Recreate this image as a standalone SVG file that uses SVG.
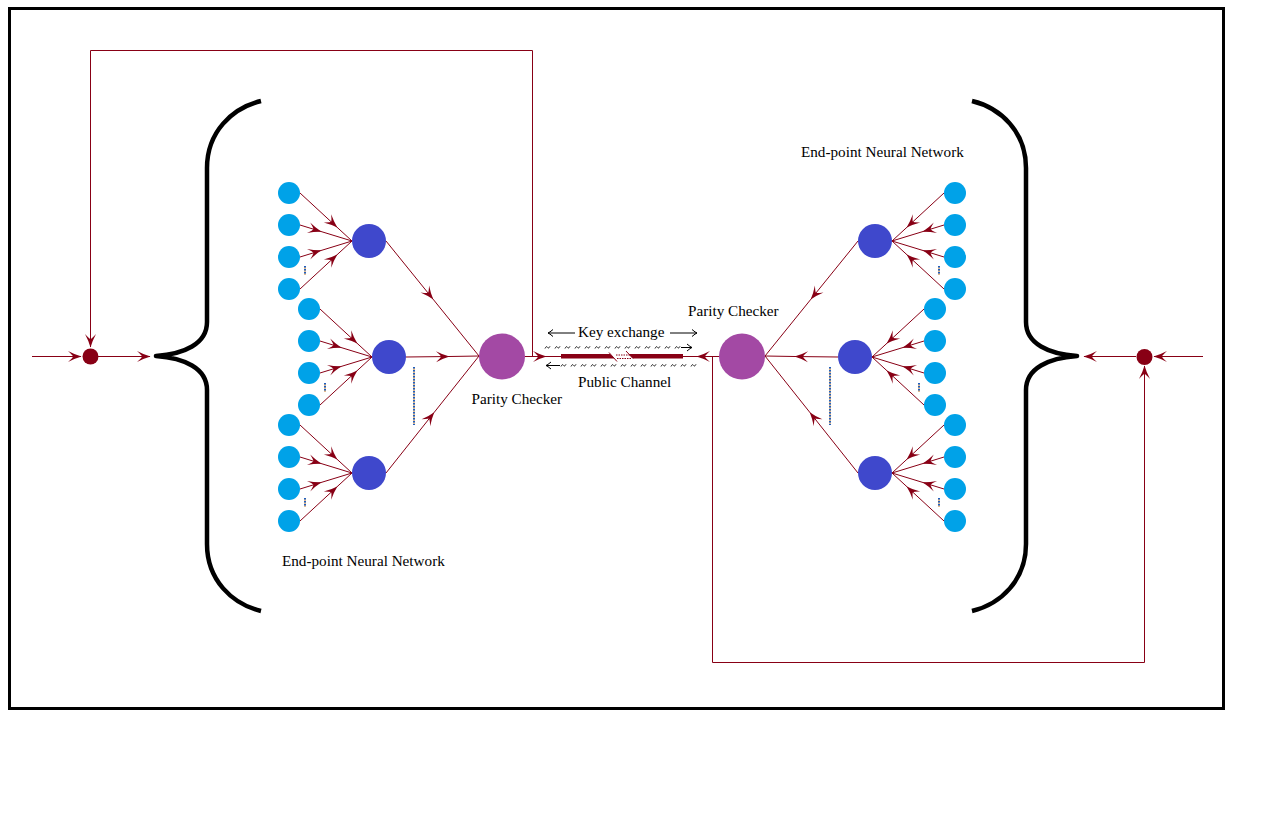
<svg xmlns="http://www.w3.org/2000/svg" width="1287" height="823" viewBox="0 0 1287 823">
<style>
.e{fill:none;stroke:#880015;stroke-width:1;marker-mid:url(#ah)}
.f{fill:none;stroke:#880015;stroke-width:1}
.fe{fill:none;stroke:#880015;stroke-width:1;marker-end:url(#ah)}
.in{fill:#00a2e8}
.hd{fill:#3f48cc}
.pc{fill:#a349a4}
.br{fill:none;stroke:#000;stroke-width:4.5;stroke-linejoin:round}
.t{font-family:"Liberation Serif","Times New Roman",serif;font-size:15.2px;fill:#000}
.ka{fill:none;stroke:#000;stroke-width:1;marker-end:url(#oa)}
.dO{stroke:#c87a20;stroke-width:2;stroke-dasharray:1 2;stroke-dashoffset:-1.5;fill:none}
.dB{stroke:#1f5fc0;stroke-width:2;stroke-dasharray:1.5 1.5;fill:none}
.tl{fill:none;stroke:#222;stroke-width:1}
</style>
<defs>
<marker id="ah" viewBox="-14 -7 15 14" refX="0" refY="0" markerWidth="15" markerHeight="14" markerUnits="userSpaceOnUse" orient="auto"><path d="M0.5,0 Q-6.5,-2 -13,-5.5 Q-8,-1 -8,0 Q-8,1 -13,5.5 Q-6.5,2 0.5,0 Z" fill="#880015"/></marker>
<marker id="oa" viewBox="-6 -5 7 10" refX="0" refY="0" markerWidth="7" markerHeight="10" markerUnits="userSpaceOnUse" orient="auto" overflow="visible"><path d="M-5,-3.5 Q-1.5,-0.5 0,0 Q-1.5,0.5 -5,3.5" fill="none" stroke="#000" stroke-width="1"/></marker>
</defs>
<rect x="0" y="0" width="1287" height="823" fill="#fff"/>
<rect id="frame" x="9.5" y="8.5" width="1214" height="700" fill="none" stroke="#000" stroke-width="3"/>

<g id="connectors">
<path class="e" d="M300,193 L337,227.2 L352,241"/>
<path class="e" d="M300,225 L321,231.5 L352,241"/>
<path class="e" d="M300,257 L321,250.5 L352,241"/>
<path class="e" d="M300,289 L337,254.8 L352,241"/>
<path class="e" d="M320,309 L357,343.2 L372,357"/>
<path class="e" d="M320,341 L341,347.5 L372,357"/>
<path class="e" d="M320,373 L341,366.5 L372,357"/>
<path class="e" d="M320,405 L357,370.8 L372,357"/>
<path class="e" d="M300,425 L337,459.2 L352,473"/>
<path class="e" d="M300,457 L321,463.5 L352,473"/>
<path class="e" d="M300,489 L321,482.5 L352,473"/>
<path class="e" d="M300,521 L337,486.8 L352,473"/>
<path class="e" d="M386,241 L433,299.1 L479,356"/>
<path class="e" d="M406,357 L449,356.5 L479,356"/>
<path class="e" d="M386,473 L434,412.6 L479,356"/>
<path class="e" d="M944,193 L907,227.2 L892,241"/>
<path class="e" d="M944,225 L923,231.5 L892,241"/>
<path class="e" d="M944,257 L923,250.5 L892,241"/>
<path class="e" d="M944,289 L907,254.8 L892,241"/>
<path class="e" d="M924,309 L887,343.2 L872,357"/>
<path class="e" d="M924,341 L903,347.5 L872,357"/>
<path class="e" d="M924,373 L903,366.5 L872,357"/>
<path class="e" d="M924,405 L887,370.8 L872,357"/>
<path class="e" d="M944,425 L907,459.2 L892,473"/>
<path class="e" d="M944,457 L923,463.5 L892,473"/>
<path class="e" d="M944,489 L923,482.5 L892,473"/>
<path class="e" d="M944,521 L907,486.8 L892,473"/>
<path class="e" d="M858,241 L811,299.1 L765,356"/>
<path class="e" d="M838,357 L795,356.5 L765,356"/>
<path class="e" d="M858,473 L810,412.6 L765,356"/>
<path class="e" d="M525,356.5 L546,356.5 L561,356.5"/>
<path class="e" d="M719,356.5 L697,356.5 L683,356.5"/>
<path class="f" d="M532.5,356.5 V50.5 H90.5 V340"/>
<path class="fe" d="M90.5,330 V347"/>
<path class="f" d="M712.5,356.5 V662.5 H1144.5 V375"/>
<path class="fe" d="M1144.5,385 V366"/>
<path class="fe" d="M32,356.5 H81"/>
<path class="fe" d="M98,356.5 H150"/>
<path class="fe" d="M1203,356.5 H1154"/>
<path class="fe" d="M1136,356.5 H1084"/>
</g>

<g id="channel">
<polygon points="561,354 610,354 614.5,358.5 561,358.5" fill="#880015"/>
<line x1="609" y1="352.5" x2="617" y2="361.5" stroke="#880015" stroke-width="1"/>
<line x1="616" y1="355" x2="631" y2="355" stroke="#880015" stroke-width="1" stroke-dasharray="1.5 1"/>
<line x1="617" y1="358.5" x2="632" y2="358.5" stroke="#880015" stroke-width="1" stroke-dasharray="1.5 1"/>
<polygon points="628.5,354 683,354 683,358.5 633,358.5" fill="#880015"/>
<line x1="626" y1="351" x2="633" y2="358.5" stroke="#880015" stroke-width="1"/>
<path class="tl" d="M545,348.5 c1,-2.2 2,-2.2 2.5,-1.2 s1.5,1.2 2.5,-1 m5,2.2 c1,-2.2 2,-2.2 2.5,-1.2 s1.5,1.2 2.5,-1 m5,2.2 c1,-2.2 2,-2.2 2.5,-1.2 s1.5,1.2 2.5,-1 m5,2.2 c1,-2.2 2,-2.2 2.5,-1.2 s1.5,1.2 2.5,-1 m5,2.2 c1,-2.2 2,-2.2 2.5,-1.2 s1.5,1.2 2.5,-1 m5,2.2 c1,-2.2 2,-2.2 2.5,-1.2 s1.5,1.2 2.5,-1 m5,2.2 c1,-2.2 2,-2.2 2.5,-1.2 s1.5,1.2 2.5,-1 m5,2.2 c1,-2.2 2,-2.2 2.5,-1.2 s1.5,1.2 2.5,-1 m5,2.2 c1,-2.2 2,-2.2 2.5,-1.2 s1.5,1.2 2.5,-1 m5,2.2 c1,-2.2 2,-2.2 2.5,-1.2 s1.5,1.2 2.5,-1 m5,2.2 c1,-2.2 2,-2.2 2.5,-1.2 s1.5,1.2 2.5,-1 m5,2.2 c1,-2.2 2,-2.2 2.5,-1.2 s1.5,1.2 2.5,-1 m5,2.2 c1,-2.2 2,-2.2 2.5,-1.2 s1.5,1.2 2.5,-1 m5,2.2 c1,-2.2 2,-2.2 2.5,-1.2 s1.5,1.2 2.5,-1"/>
<path class="tl" d="M561,366.5 c1,-2.2 2,-2.2 2.5,-1.2 s1.5,1.2 2.5,-1 m5,2.2 c1,-2.2 2,-2.2 2.5,-1.2 s1.5,1.2 2.5,-1 m5,2.2 c1,-2.2 2,-2.2 2.5,-1.2 s1.5,1.2 2.5,-1 m5,2.2 c1,-2.2 2,-2.2 2.5,-1.2 s1.5,1.2 2.5,-1 m5,2.2 c1,-2.2 2,-2.2 2.5,-1.2 s1.5,1.2 2.5,-1 m5,2.2 c1,-2.2 2,-2.2 2.5,-1.2 s1.5,1.2 2.5,-1 m5,2.2 c1,-2.2 2,-2.2 2.5,-1.2 s1.5,1.2 2.5,-1 m5,2.2 c1,-2.2 2,-2.2 2.5,-1.2 s1.5,1.2 2.5,-1 m5,2.2 c1,-2.2 2,-2.2 2.5,-1.2 s1.5,1.2 2.5,-1 m5,2.2 c1,-2.2 2,-2.2 2.5,-1.2 s1.5,1.2 2.5,-1 m5,2.2 c1,-2.2 2,-2.2 2.5,-1.2 s1.5,1.2 2.5,-1 m5,2.2 c1,-2.2 2,-2.2 2.5,-1.2 s1.5,1.2 2.5,-1 m5,2.2 c1,-2.2 2,-2.2 2.5,-1.2 s1.5,1.2 2.5,-1 m5,2.2 c1,-2.2 2,-2.2 2.5,-1.2 s1.5,1.2 2.5,-1"/>
<path class="ka" d="M681,347.5 H692"/>
<path class="ka" d="M560,365.5 H546"/>
<path class="ka" d="M575,333 H548"/>
<path class="ka" d="M670,333 H697"/>
<text class="t" x="578" y="337">Key exchange</text>
<text class="t" x="578" y="387">Public Channel</text>
</g>

<g id="braces">
<path class="br" d="M261,101 C232,108 207,132 207,168 L207,322 C207,344 184,354 156,356 C184,358 207,368 207,390 L207,544 C207,580 232,604 261,611"/>
<path class="br" d="M972,101 C1001,108 1026,132 1026,168 L1026,322 C1026,344 1049,354 1077,356 C1049,358 1026,368 1026,390 L1026,544 C1026,580 1001,604 972,611"/>
</g>

<g id="dots">
<line class="dO" x1="305" y1="266" x2="305" y2="275"/><line class="dB" x1="305" y1="266" x2="305" y2="275"/>
<line class="dO" x1="325" y1="383" x2="325" y2="392"/><line class="dB" x1="325" y1="383" x2="325" y2="392"/>
<line class="dO" x1="305" y1="498" x2="305" y2="507"/><line class="dB" x1="305" y1="498" x2="305" y2="507"/>
<line class="dO" x1="939" y1="266" x2="939" y2="275"/><line class="dB" x1="939" y1="266" x2="939" y2="275"/>
<line class="dO" x1="919" y1="383" x2="919" y2="392"/><line class="dB" x1="919" y1="383" x2="919" y2="392"/>
<line class="dO" x1="939" y1="498" x2="939" y2="507"/><line class="dB" x1="939" y1="498" x2="939" y2="507"/>
<line class="dO" x1="414" y1="367" x2="414" y2="425"/><line class="dB" x1="414" y1="367" x2="414" y2="425"/>
<line class="dO" x1="830" y1="367" x2="830" y2="425"/><line class="dB" x1="830" y1="367" x2="830" y2="425"/>
</g>

<g id="left-inputs">
<circle class="in" cx="289" cy="193" r="11"/><circle class="in" cx="289" cy="225" r="11"/><circle class="in" cx="289" cy="257" r="11"/><circle class="in" cx="289" cy="289" r="11"/>
<circle class="in" cx="309" cy="309" r="11"/><circle class="in" cx="309" cy="341" r="11"/><circle class="in" cx="309" cy="373" r="11"/><circle class="in" cx="309" cy="405" r="11"/>
<circle class="in" cx="289" cy="425" r="11"/><circle class="in" cx="289" cy="457" r="11"/><circle class="in" cx="289" cy="489" r="11"/><circle class="in" cx="289" cy="521" r="11"/>
</g>
<g id="left-hidden">
<circle class="hd" cx="369" cy="241" r="17"/>
<circle class="hd" cx="389" cy="357" r="17"/>
<circle class="hd" cx="369" cy="473" r="17"/>
</g>
<g id="left-parity">
<circle class="pc" cx="502" cy="356.5" r="23"/>
<text class="t" x="471.5" y="404">Parity Checker</text>
</g>
<g id="left-label"><text class="t" x="282" y="566">End-point Neural Network</text></g>
<g id="left-dot"><circle cx="90.5" cy="356.5" r="8" fill="#880015"/></g>

<g id="right-inputs">
<circle class="in" cx="955" cy="193" r="11"/><circle class="in" cx="955" cy="225" r="11"/><circle class="in" cx="955" cy="257" r="11"/><circle class="in" cx="955" cy="289" r="11"/>
<circle class="in" cx="935" cy="309" r="11"/><circle class="in" cx="935" cy="341" r="11"/><circle class="in" cx="935" cy="373" r="11"/><circle class="in" cx="935" cy="405" r="11"/>
<circle class="in" cx="955" cy="425" r="11"/><circle class="in" cx="955" cy="457" r="11"/><circle class="in" cx="955" cy="489" r="11"/><circle class="in" cx="955" cy="521" r="11"/>
</g>
<g id="right-hidden">
<circle class="hd" cx="875" cy="241" r="17"/>
<circle class="hd" cx="855" cy="357" r="17"/>
<circle class="hd" cx="875" cy="473" r="17"/>
</g>
<g id="right-parity">
<circle class="pc" cx="742" cy="356.5" r="23"/>
<text class="t" x="688" y="316">Parity Checker</text>
</g>
<g id="right-label"><text class="t" x="801" y="157">End-point Neural Network</text></g>
<g id="right-dot"><circle cx="1144.5" cy="357" r="8" fill="#880015"/></g>
</svg>
